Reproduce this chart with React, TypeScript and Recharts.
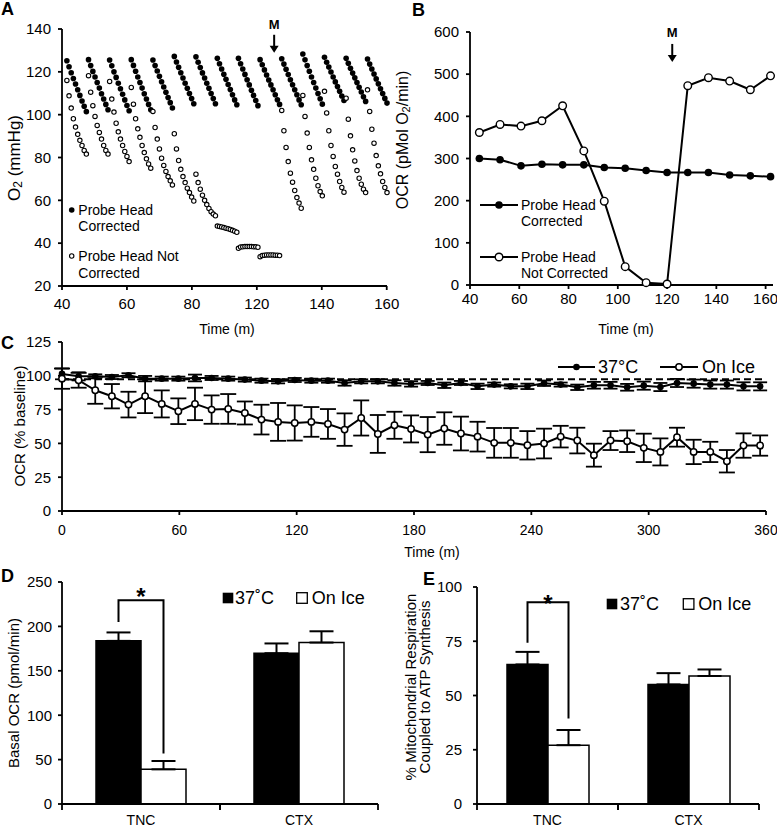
import React from 'react';
import {
  ScatterChart, Scatter, LineChart, Line, BarChart, Bar, XAxis, YAxis,
  ErrorBar, ReferenceLine, ReferenceDot, Legend, Customized, Label,
} from 'recharts';

const FONT = '"Liberation Sans", Arial, Helvetica, sans-serif';
const BLACK = '#000000';
const WHITE = '#ffffff';

// ---------------- Panel A : O2 traces ----------------
const A_CYCLE_START = [41.8, 49.8, 57.6, 65.6, 73.6, 81.5, 89.5, 97.4, 105.2, 113.2, 121.2, 129.0, 137.0, 145.0, 152.9];
const A_SAMPLE_OFFSET = [0, 0.8, 1.6, 2.4, 3.2, 4.0, 4.8, 5.6, 6.4, 7.2];
const A_CORRECTED = [
  [125.2, 122.4, 119.6, 116.9, 114.3, 111.6, 109.0, 106.4, 103.9, 101.4],
  [125.7, 122.9, 120.2, 117.6, 115.0, 112.4, 109.8, 107.3, 104.8, 102.3],
  [125.5, 122.8, 120.0, 117.4, 114.7, 112.1, 109.5, 106.9, 104.3, 101.8],
  [125.7, 123.0, 120.3, 117.6, 115.0, 112.4, 109.8, 107.3, 104.8, 102.3],
  [125.5, 122.9, 120.4, 117.9, 115.4, 112.9, 110.5, 108.0, 105.6, 103.1],
  [127.2, 124.6, 122.1, 119.6, 117.1, 114.7, 112.3, 109.9, 107.5, 105.1],
  [127.0, 124.5, 122.0, 119.5, 117.1, 114.7, 112.3, 109.9, 107.5, 105.1],
  [126.3, 123.8, 121.3, 118.9, 116.5, 114.1, 111.7, 109.3, 106.9, 104.6],
  [126.3, 123.8, 121.3, 118.8, 116.3, 113.9, 111.4, 109.0, 106.6, 104.2],
  [125.7, 123.3, 120.9, 118.5, 116.2, 113.9, 111.6, 109.3, 107.0, 104.8],
  [126.1, 123.6, 121.2, 118.7, 116.3, 114.0, 111.6, 109.3, 106.9, 104.6],
  [128.3, 125.6, 122.9, 120.3, 117.6, 115.0, 112.4, 109.9, 107.4, 104.9],
  [126.8, 124.5, 122.2, 119.9, 117.6, 115.3, 113.1, 110.9, 108.7, 106.6],
  [126.3, 124.0, 121.7, 119.4, 117.2, 115.0, 112.8, 110.6, 108.4, 106.2],
  [126.0, 123.6, 121.3, 119.0, 116.7, 114.4, 112.1, 109.9, 107.6, 105.4],
];
const A_NOT_CORRECTED = [
  [116.0, 108.8, 103.1, 98.1, 94.2, 90.8, 88.0, 85.6, 83.3, 81.6],
  [118.2, 110.5, 104.2, 99.2, 95.0, 91.7, 88.6, 85.6, 83.3, 81.6],
  [115.5, 107.3, 101.2, 96.0, 92.0, 88.6, 85.6, 82.8, 80.5, 78.1],
  [112.7, 104.9, 98.1, 93.4, 89.4, 85.6, 82.3, 79.4, 77.0, 75.0],
  [101.5, 94.0, 88.6, 84.0, 79.7, 76.3, 73.5, 71.1, 69.1, 67.2],
  [91.1, 84.0, 78.6, 74.5, 71.1, 68.3, 65.7, 63.6, 61.5, 59.7],
  [72.2, 68.3, 65.2, 62.4, 60.0, 58.0, 56.2, 54.7, 53.6, 52.8],
  [48.0, 47.8, 47.6, 47.3, 47.0, 46.7, 46.4, 46.0, 45.6, 45.1],
  [37.6, 38.2, 38.3, 38.4, 38.4, 38.4, 38.4, 38.3, 38.3, 38.1],
  [33.7, 34.2, 34.4, 34.5, 34.5, 34.5, 34.5, 34.4, 34.4, 34.2],
  [102.0, 92.5, 84.7, 78.1, 72.7, 68.5, 64.6, 61.3, 58.7, 56.3],
  [109.0, 99.2, 91.4, 84.7, 78.9, 74.5, 70.3, 66.8, 64.1, 62.1],
  [110.9, 100.8, 92.5, 85.6, 80.5, 75.8, 72.2, 68.8, 66.0, 63.8],
  [107.7, 97.9, 90.1, 83.6, 78.4, 73.9, 70.3, 67.5, 65.2, 63.6],
  [111.6, 101.5, 93.2, 86.7, 80.9, 76.1, 72.4, 68.8, 66.0, 63.6],
];
const A_X_TICKS = [40, 64, 88, 112, 136, 160];
const A_X_TICK_LABELS = ['40', '60', '80', '120', '140', '160'];
const A_Y_TICKS = [20, 40, 60, 80, 100, 120, 140];
const A_MARKER_TIME = 118.4;
const A_MARKER_LEVEL = 128.9;

// ---------------- Panel B : OCR ----------------
const B_TIME = [43.8, 52.2, 60.7, 69.2, 77.6, 86.2, 94.5, 103.0, 111.5, 120.0, 128.4, 136.8, 145.4, 153.8, 162.0];
const B_CORRECTED = [300, 297, 282.6, 286.5, 285, 285, 278.6, 277, 271.5, 266.8, 266.8, 266.8, 261, 258.8, 257];
const B_NOT_CORRECTED = [361.7, 380.7, 376.8, 389.5, 425, 318, 198.7, 43.5, 5.5, 2.4, 472.6, 491.6, 483.6, 463, 496];
const B_X_TICKS = [40, 60, 80, 100, 120, 140, 160];
const B_Y_TICKS = [0, 100, 200, 300, 400, 500, 600];
const B_MARKER_TIME = 122.1;
const B_MARKER_LEVEL = 529;

// ---------------- Panel C : OCR % baseline ----------------
const C_TIME = [0, 8.5, 17, 25.5, 34, 42.5, 51, 59.5, 68, 76.5, 85, 93.5, 102, 110.5, 119, 127.5, 136, 144.5, 153, 161.5, 170, 178.5, 187, 195.5, 204, 212.5, 221, 229.5, 238, 246.5, 255, 263.5, 272, 280.5, 289, 297.5, 306, 314.5, 323, 331.5, 340, 348.5, 357];
const C_WARM = [101.4, 99.6, 99.6, 99.1, 100.4, 97.9, 97.9, 97.9, 98.4, 98.4, 97.9, 97.2, 96.4, 95.9, 96.9, 96.4, 96.4, 94.7, 95.9, 95.9, 94.7, 94.0, 94.7, 93.0, 94.7, 92.2, 93.5, 92.2, 92.2, 94.5, 93.5, 91.5, 93.0, 93.0, 91.5, 92.7, 91.7, 94.7, 94.2, 93.5, 93.5, 92.2, 92.2];
const C_WARM_ERR = [4, 3, 1.5, 1.5, 1.5, 2, 1.5, 1.5, 2.5, 1.5, 1.5, 1.5, 1.5, 1.5, 1.5, 1.5, 1.5, 2, 1.5, 1.5, 2, 2, 1.5, 2, 1.5, 2, 1.5, 1.5, 2, 2, 1.5, 2, 2.5, 2.5, 2.5, 3, 3, 3, 3, 3, 3, 3, 3];
const C_ICE = [97.9, 96.7, 89.3, 84.9, 78.7, 84.9, 79.2, 73.8, 79.2, 75.0, 75.5, 72.5, 67.6, 65.9, 65.1, 65.9, 64.4, 60.2, 68.8, 57.0, 63.4, 60.7, 56.5, 61.0, 57.3, 55.0, 50.4, 50.4, 48.6, 49.9, 55.0, 52.1, 41.3, 52.1, 51.6, 46.7, 43.7, 54.6, 43.7, 43.7, 36.8, 48.4, 48.4];
const C_ICE_ERR = [7.5, 5.5, 10, 9, 9.5, 12.5, 10, 9.5, 12, 10.5, 11, 8.5, 11, 14, 13, 11, 11, 12, 13, 14, 10, 10, 13, 12, 12.5, 11, 11, 11, 10.5, 11, 8, 9.5, 8.5, 7, 8, 10.5, 10, 7, 9, 7.5, 8.3, 9, 7.5];
const C_BASELINE_REF = 97.5;
const C_X_TICKS = [0, 60, 120, 180, 240, 300, 360];
const C_Y_TICKS = [0, 25, 50, 75, 100, 125];

// ---------------- Panels D & E : bars ----------------
const DE_GROUPS = ['TNC', 'CTX'];
const D_WARM = [183.7, 169.8];
const D_WARM_ERR = [9.5, 11];
const D_ICE = [39, 181.8];
const D_ICE_ERR = [9.4, 12.7];
const D_Y_TICKS = [0, 50, 100, 150, 200, 250];
const E_WARM = [64.3, 55.1];
const E_WARM_ERR = [5.8, 5.2];
const E_ICE = [27.1, 59];
const E_ICE_ERR = [7, 3];
const E_Y_TICKS = [0, 25, 50, 75, 100];

// ---------------- tables built from the arrays ----------------
const flatten = (cycles: number[][]) =>
  cycles.flatMap((cycle, i) => cycle.map((o2, j) => ({ time: A_CYCLE_START[i] + A_SAMPLE_OFFSET[j], o2 })));
const aCorrectedPts = flatten(A_CORRECTED);
const aNotCorrectedPts = flatten(A_NOT_CORRECTED);
const bData = B_TIME.map((t, i) => ({ t, corr: B_CORRECTED[i], notCorr: B_NOT_CORRECTED[i] }));
const cData = C_TIME.map((t, i) => ({ t, warm: C_WARM[i], warmErr: C_WARM_ERR[i], ice: C_ICE[i], iceErr: C_ICE_ERR[i] }));
const dData = DE_GROUPS.map((g, i) => ({ group: g, warm: D_WARM[i], warmErr: [0, D_WARM_ERR[i]], ice: D_ICE[i], iceErr: [0, D_ICE_ERR[i]] }));
const eData = DE_GROUPS.map((g, i) => ({ group: g, warm: E_WARM[i], warmErr: [0, E_WARM_ERR[i]], ice: E_ICE[i], iceErr: [0, E_ICE_ERR[i]] }));

// ---------------- shared styles ----------------
const AXIS_LINE = { stroke: BLACK, strokeWidth: 1.8 };
const TICK_FONT = 15;
const tickText = (size: number) => ({ fill: BLACK, fontSize: size, fontFamily: FONT });

const txt = (x: number, y: number, s: string, size: number, extra: any = {}) => (
  <text x={x} y={y} fontSize={size} fontFamily={FONT} fill={BLACK} dominantBaseline="central" {...extra}>{s}</text>
);

const PanelLetter = (letter: string, x: number, y: number) => () => (
  <text x={x} y={y} fontSize={18} fontWeight="bold" fontFamily={FONT} fill={BLACK}>{letter}</text>
);

const vTitle = (cx: number, cy: number, size: number, children: React.ReactNode) => () => (
  <text x={cx} y={cy} transform={`rotate(-90 ${cx} ${cy})`} textAnchor="middle" dominantBaseline="central"
    fontSize={size} fontFamily={FONT} fill={BLACK}>{children}</text>
);
const hTitle = (cx: number, cy: number, size: number, s: string) => () => (
  <text x={cx} y={cy} textAnchor="middle" dominantBaseline="central" fontSize={size} fontFamily={FONT} fill={BLACK}>{s}</text>
);

const arrowShape = (labelGap: number) => (p: any) => {
  const { cx, cy } = p;
  return (
    <g>
      <text x={cx} y={cy - labelGap} textAnchor="middle" fontSize={13} fontWeight="bold" fontFamily={FONT} fill={BLACK}>M</text>
      <line x1={cx} y1={cy - 18} x2={cx} y2={cy - 5} stroke={BLACK} strokeWidth={2} />
      <path d={`M ${cx - 4.5} ${cy - 7} L ${cx + 4.5} ${cy - 7} L ${cx} ${cy} Z`} fill={BLACK} />
    </g>
  );
};

const legendWrap = (w: number, h: number) => ({ left: 0, top: 0, width: w, height: h, pointerEvents: 'none' as const });

// ---------------- Panel A ----------------
function PanelA() {
  const filled = (p: any) => <circle cx={p.cx} cy={p.cy} r={2.8} fill={BLACK} />;
  const open = (p: any) => <circle cx={p.cx} cy={p.cy} r={2.2} fill={WHITE} stroke={BLACK} strokeWidth={1.1} />;
  return (
    <ScatterChart width={400} height={340} margin={{ top: 29, right: 13, bottom: 0, left: 0 }}>
      <XAxis type="number" dataKey="time" domain={[40, 160]} ticks={A_X_TICKS} interval={0}
        tickFormatter={(v: number) => A_X_TICK_LABELS[A_X_TICKS.indexOf(v)]}
        height={54} axisLine={AXIS_LINE} tickLine={AXIS_LINE} tickSize={4} tickMargin={8} tick={tickText(TICK_FONT)}>
        <Label content={hTitle(227, 329, 14, 'Time (m)')} />
      </XAxis>
      <YAxis type="number" dataKey="o2" domain={[20, 140]} ticks={A_Y_TICKS} interval={0} width={62}
        axisLine={AXIS_LINE} tickLine={AXIS_LINE} tickSize={4} tickMargin={7} tick={tickText(TICK_FONT)}>
        <Label content={vTitle(14, 158, 17, <>O<tspan dy={4} fontSize={12}>2</tspan><tspan dy={-4}> (mmHg)</tspan></>)} />
      </YAxis>
      <Scatter name="Probe Head Corrected" data={aCorrectedPts} shape={filled} isAnimationActive={false} />
      <Scatter name="Probe Head Not Corrected" data={aNotCorrectedPts} shape={open} isAnimationActive={false} />
      <ReferenceDot x={A_MARKER_TIME} y={A_MARKER_LEVEL} shape={arrowShape(24)} />
      <Legend verticalAlign="middle" align="center" layout="horizontal" wrapperStyle={legendWrap(400, 340)}
        content={() => (
          <svg width={400} height={340}>
            <circle cx={71.7} cy={210} r={2.8} fill={BLACK} />
            {txt(78.3, 209.5, 'Probe Head', 14)}
            {txt(78.3, 226, 'Corrected', 14)}
            <circle cx={71.7} cy={256} r={2.2} fill={WHITE} stroke={BLACK} strokeWidth={1.1} />
            {txt(78.3, 256, 'Probe Head Not', 14)}
            {txt(78.3, 272.5, 'Corrected', 14)}
          </svg>
        )} />
      <Customized component={PanelLetter('A', 1, 15)} />
    </ScatterChart>
  );
}

// ---------------- Panel B ----------------
function PanelB() {
  const filled = (p: any) => <circle key={`f${p.index}`} cx={p.cx} cy={p.cy} r={3.8} fill={BLACK} />;
  const open = (p: any) => <circle key={`o${p.index}`} cx={p.cx} cy={p.cy} r={3.8} fill={WHITE} stroke={BLACK} strokeWidth={1.4} />;
  return (
    <LineChart width={387} height={340} data={bData} margin={{ top: 32, right: 4, bottom: 0, left: 0 }}>
      <XAxis type="number" dataKey="t" domain={[40, 163]} ticks={B_X_TICKS} interval={0}
        height={55} axisLine={AXIS_LINE} tickLine={AXIS_LINE} tickSize={4} tickMargin={4} tick={tickText(TICK_FONT)}>
        <Label content={hTitle(236, 329, 14, 'Time (m)')} />
      </XAxis>
      <YAxis type="number" domain={[0, 600]} ticks={B_Y_TICKS} interval={0} width={80}
        axisLine={AXIS_LINE} tickLine={AXIS_LINE} tickSize={4} tickMargin={7} tick={tickText(TICK_FONT)}>
        <Label content={vTitle(12, 140, 16, <>OCR (pMol O<tspan dy={4} fontSize={11}>2</tspan><tspan dy={-4}>/min)</tspan></>)} />
      </YAxis>
      <Line dataKey="corr" name="Probe Head Corrected" stroke={BLACK} strokeWidth={2} dot={filled} isAnimationActive={false} />
      <Line dataKey="notCorr" name="Probe Head Not Corrected" stroke={BLACK} strokeWidth={2} dot={open} isAnimationActive={false} />
      <ReferenceDot x={B_MARKER_TIME} y={B_MARKER_LEVEL} shape={arrowShape(25)} />
      <Legend verticalAlign="middle" align="center" layout="horizontal" wrapperStyle={legendWrap(387, 340)}
        content={() => (
          <svg width={387} height={340}>
            <line x1={90} y1={205} x2={128} y2={205} stroke={BLACK} strokeWidth={2} />
            <circle cx={109} cy={205} r={3.8} fill={BLACK} />
            {txt(131, 205, 'Probe Head', 14)}
            {txt(131, 221, 'Corrected', 14)}
            <line x1={90} y1={257} x2={128} y2={257} stroke={BLACK} strokeWidth={2} />
            <circle cx={109} cy={257} r={3.8} fill={WHITE} stroke={BLACK} strokeWidth={1.4} />
            {txt(131, 256.5, 'Probe Head', 14)}
            {txt(131, 272.5, 'Not Corrected', 14)}
          </svg>
        )} />
      <Customized component={PanelLetter('B', 22, 16)} />
    </LineChart>
  );
}

// ---------------- Panel C ----------------
function PanelC() {
  const filled = (p: any) => <circle key={`f${p.index}`} cx={p.cx} cy={p.cy} r={3.3} fill={BLACK} />;
  const open = (p: any) => <circle key={`o${p.index}`} cx={p.cx} cy={p.cy} r={3.2} fill={WHITE} stroke={BLACK} strokeWidth={1.5} />;
  return (
    <LineChart width={777} height={230} data={cData} margin={{ top: 12, right: 11, bottom: 0, left: 0 }}>
      <XAxis type="number" dataKey="t" domain={[0, 360]} ticks={C_X_TICKS} interval={0}
        height={49} axisLine={AXIS_LINE} tickLine={AXIS_LINE} tickSize={4} tickMargin={10} tick={tickText(14)}>
        <Label content={hTitle(432, 222, 14, 'Time (m)')} />
      </XAxis>
      <YAxis type="number" domain={[0, 125]} ticks={C_Y_TICKS} interval={0} width={62}
        axisLine={AXIS_LINE} tickLine={AXIS_LINE} tickSize={4} tickMargin={7} tick={tickText(TICK_FONT)}>
        <Label content={vTitle(19, 96, 15, 'OCR (% baseline)')} />
      </YAxis>
      <ReferenceLine y={C_BASELINE_REF} stroke={BLACK} strokeWidth={2} strokeDasharray="7 4" />
      <Line dataKey="warm" name="37°C" stroke={BLACK} strokeWidth={2} dot={filled} isAnimationActive={false}>
        <ErrorBar dataKey="warmErr" width={7} stroke={BLACK} strokeWidth={1.8} direction="y" />
      </Line>
      <Line dataKey="ice" name="On Ice" stroke={BLACK} strokeWidth={2} dot={open} isAnimationActive={false}>
        <ErrorBar dataKey="iceErr" width={8} stroke={BLACK} strokeWidth={1.8} direction="y" />
      </Line>
      <Legend verticalAlign="middle" align="center" layout="horizontal" wrapperStyle={legendWrap(777, 230)}
        content={() => (
          <svg width={777} height={230}>
            <line x1={558} y1={37} x2={595} y2={37} stroke={BLACK} strokeWidth={2} />
            <circle cx={576.5} cy={37} r={3.3} fill={BLACK} />
            {txt(598, 37, '37°C', 18)}
            <line x1={660} y1={37} x2={698} y2={37} stroke={BLACK} strokeWidth={2} />
            <circle cx={679} cy={37} r={3.2} fill={WHITE} stroke={BLACK} strokeWidth={1.5} />
            {txt(702, 37, 'On Ice', 18)}
          </svg>
        )} />
      <Customized component={PanelLetter('C', 1, 19)} />
    </LineChart>
  );
}

// ---------------- Panels D / E ----------------
type Bracket = { left: number; top: number; right: number; star: number };
const bracketLabel = (b: Bracket) => (p: any) => {
  const vb = p.viewBox ?? p;
  const index = p.index;
  if (index !== 0 || !vb || !vb.height) return null;
  const value = Number(p.value);
  const ppu = vb.height / value;
  const base = vb.y + vb.height;
  const yv = (v: number) => base - v * ppu;
  const xl = vb.x + vb.width / 2;
  const xr = vb.x + vb.width * 1.5;
  return (
    <g>
      <path d={`M ${xl} ${yv(b.left)} V ${yv(b.top)} H ${xr} V ${yv(b.right)}`} fill="none" stroke={BLACK} strokeWidth={2} />
      <text x={(xl + xr) / 2} y={yv(b.star)} textAnchor="middle" fontSize={24} fontWeight="bold" fontFamily={FONT} fill={BLACK}>*</text>
    </g>
  );
};

const CAT_TICK_MARGIN = 11.5;
const CAT_TICK_LEN = 6;
// category tick: label at band centre, tick marks at the band boundaries (payload.offset = half band)
const categoryTick = (p: any) => {
  const { x, y, payload } = p;
  const half = payload?.offset ?? 0;
  const axisY = y - CAT_TICK_MARGIN;
  return (
    <g>
      <line x1={x - half} y1={axisY} x2={x - half} y2={axisY + CAT_TICK_LEN} stroke={BLACK} strokeWidth={1.8} />
      <line x1={x + half} y1={axisY} x2={x + half} y2={axisY + CAT_TICK_LEN} stroke={BLACK} strokeWidth={1.8} />
      <text x={x} y={y} dy="0.71em" textAnchor="middle" fontSize={14} fontFamily={FONT} fill={BLACK}>{payload.value}</text>
    </g>
  );
};

function BarPanel(props: {
  data: any[]; width: number; height: number; margin: any; yWidth: number; yMax: number; yTicks: number[];
  barSize: number; bracket: Bracket; title: () => React.ReactNode; legend: { y: number; blackX: number; textX1: number; whiteX: number; textX2: number };
  letter: [string, number, number]; tickMarginY: number;
}) {
  const { data, width, height, margin, yWidth, yMax, yTicks, barSize, bracket, title, legend, letter, tickMarginY } = props;
  const sq = 10.6;
  return (
    <BarChart width={width} height={height} data={data} margin={margin} barGap={0}>
      <XAxis dataKey="group" height={25} axisLine={AXIS_LINE} tickLine={false} tickSize={0} tickMargin={CAT_TICK_MARGIN}
        tick={categoryTick} interval={0} />
      <YAxis type="number" domain={[0, yMax]} ticks={yTicks} interval={0} width={yWidth}
        axisLine={AXIS_LINE} tickLine={AXIS_LINE} tickSize={4} tickMargin={tickMarginY} tick={tickText(TICK_FONT)}>
        <Label content={title} />
      </YAxis>
      <Bar dataKey="warm" name="37˚C" fill={BLACK} stroke={BLACK} strokeWidth={1.5} barSize={barSize}
        isAnimationActive={false} label={bracketLabel(bracket)}>
        <ErrorBar dataKey="warmErr" width={12} stroke={BLACK} strokeWidth={2} direction="y" />
      </Bar>
      <Bar dataKey="ice" name="On Ice" fill={WHITE} stroke={BLACK} strokeWidth={1.5} barSize={barSize}
        isAnimationActive={false}>
        <ErrorBar dataKey="iceErr" width={12} stroke={BLACK} strokeWidth={2} direction="y" />
      </Bar>
      <Legend verticalAlign="middle" align="center" layout="horizontal" wrapperStyle={legendWrap(width, height)}
        content={() => (
          <svg width={width} height={height}>
            <rect x={legend.blackX} y={legend.y - sq / 2} width={sq} height={sq} fill={BLACK} />
            {txt(legend.textX1, legend.y, '37˚C', 18)}
            <rect x={legend.whiteX} y={legend.y - sq / 2} width={sq} height={sq} fill={WHITE} stroke={BLACK} strokeWidth={1.3} />
            {txt(legend.textX2, legend.y, 'On Ice', 18)}
          </svg>
        )} />
      <Customized component={PanelLetter(letter[0], letter[1], letter[2])} />
    </BarChart>
  );
}

export default function App() {
  return (
    <div style={{ position: 'absolute', left: 0, top: 0, width: 777, height: 829, background: WHITE, fontFamily: FONT }}>
      <div style={{ position: 'absolute', left: 0, top: 0 }}><PanelA /></div>
      <div style={{ position: 'absolute', left: 390, top: 0 }}><PanelB /></div>
      <div style={{ position: 'absolute', left: 0, top: 330 }}><PanelC /></div>
      <div style={{ position: 'absolute', left: 0, top: 560 }}>
        <BarPanel data={dData} width={390} height={269} margin={{ top: 22, right: 12, bottom: 0, left: 0 }}
          yWidth={62} yMax={250} yTicks={D_Y_TICKS} barSize={45} tickMarginY={6}
          bracket={{ left: 205, top: 229.4, right: 57, star: 224 }}
          title={vTitle(13.5, 133, 15, 'Basal OCR (pmol/min)')}
          legend={{ y: 38, blackX: 222.7, textX1: 235, whiteX: 296.7, textX2: 311.7 }}
          letter={['D', 1, 22]} />
      </div>
      <div style={{ position: 'absolute', left: 390, top: 560 }}>
        <BarPanel data={eData} width={387} height={269} margin={{ top: 27, right: 18, bottom: 0, left: 0 }}
          yWidth={87} yMax={100} yTicks={E_Y_TICKS} barSize={41} tickMarginY={11}
          bracket={{ left: 74.3, top: 93, right: 39.4, star: 88.6 }}
          title={() => (
            <g>
              {vTitle(20, 127, 15, '% Mitochondrial Respiration')()}
              {vTitle(34, 127, 15, 'Coupled to ATP Synthesis')()}
            </g>
          )}
          legend={{ y: 44, blackX: 216.7, textX1: 230, whiteX: 293.3, textX2: 308.3 }}
          letter={['E', 33, 25]} />
      </div>
    </div>
  );
}
